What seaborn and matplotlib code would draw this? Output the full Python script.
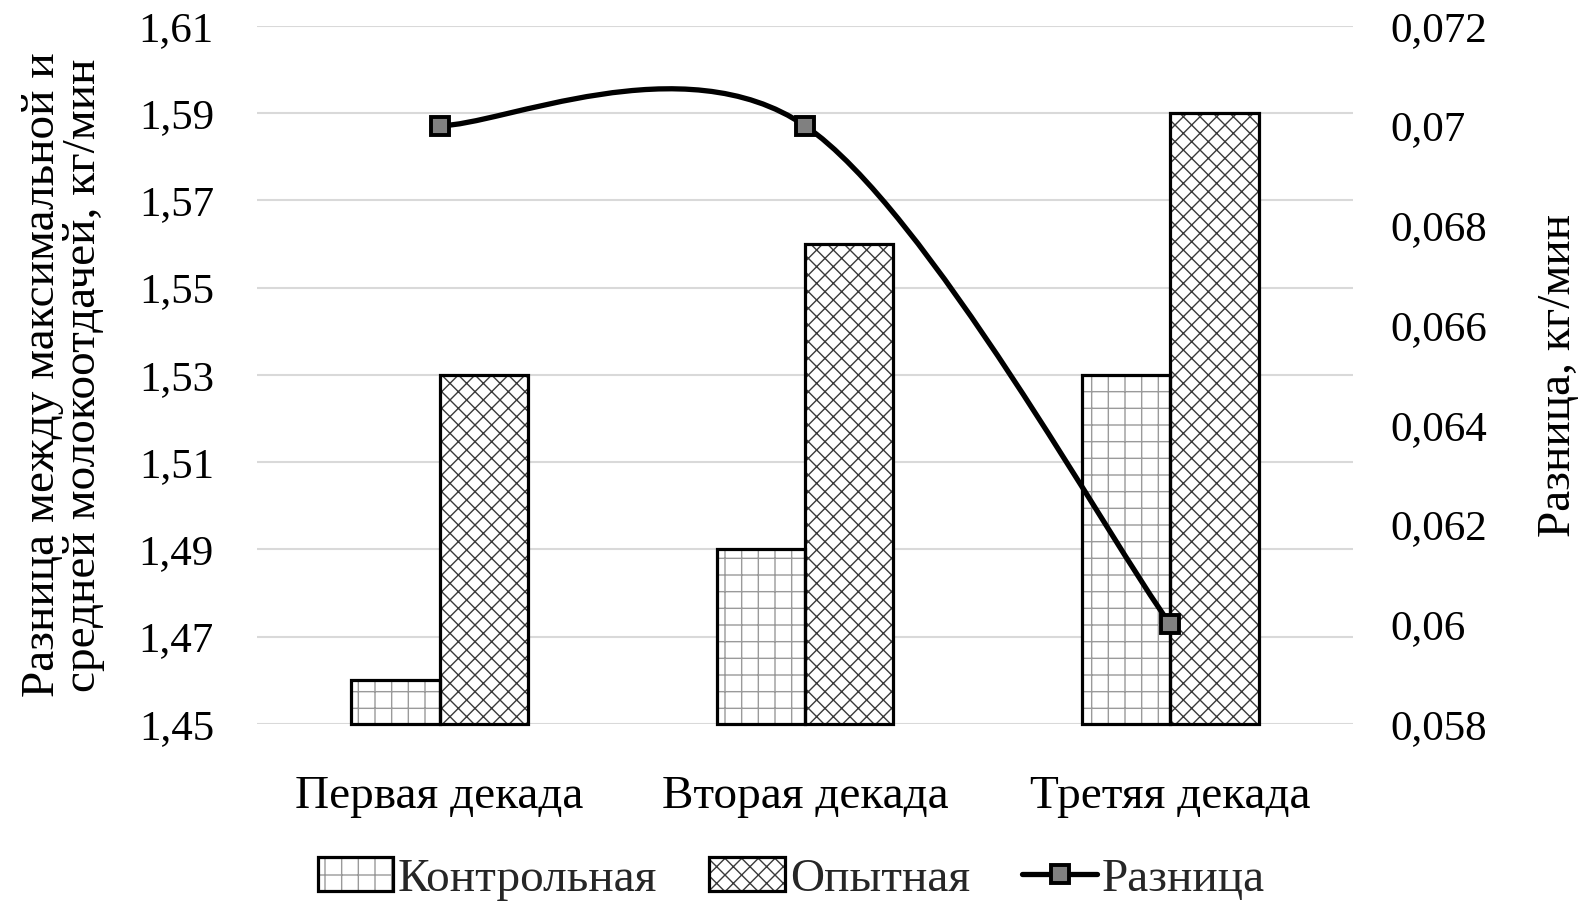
import numpy as np
import pandas as pd
import matplotlib.pyplot as plt
import seaborn as sns
from matplotlib.patches import Rectangle, Patch, PathPatch
from matplotlib.lines import Line2D
from matplotlib.path import Path
from matplotlib.ticker import FixedLocator, FuncFormatter

# Данные
dekady = ['Первая декада', 'Вторая декада', 'Третяя декада']
kontrol = [1.46, 1.49, 1.53]
opyt = [1.53, 1.56, 1.59]
raznica = [0.07, 0.07, 0.06]

df = pd.DataFrame({
    'Декада': dekady * 2,
    'Группа': ['Контрольная'] * 3 + ['Опытная'] * 3,
    'Значение': kontrol + opyt,
})

sns.set_theme(style="white")
plt.rcParams['font.family'] = ['Liberation Serif', 'DejaVu Serif']

fig = plt.figure(figsize=(15.83, 9.07), dpi=100)
ax = fig.add_axes([257 / 1583, 1 - 724 / 907, 1096 / 1583, 698 / 907])

# цвета штриховки: светлее для точечной сетки, темнее для косой
hatch_col = {'Контрольная': '#9a9a9a', 'Опытная': '#3a3a3a'}
hatches = {'Контрольная': '+', 'Опытная': 'xx'}

sns.barplot(data=df, x='Декада', y='Значение', hue='Группа', ax=ax,
            width=0.483, palette=['white', 'white'], linewidth=0,
            legend=False, saturation=1)

ax.set_ylim(1.45, 1.61)
ymin = ax.get_ylim()[0]

for cont, grp in zip(ax.containers, ['Контрольная', 'Опытная']):
    for bar in cont:
        bar.set_hatch(hatches[grp])
        bar.set_edgecolor(hatch_col[grp])
        bar.set_linewidth(0)
        # контур столбца
        ax.add_patch(Rectangle((bar.get_x(), ymin), bar.get_width(),
                               bar.get_y() + bar.get_height() - ymin,
                               fill=False, edgecolor='black', lw=2.3,
                               clip_on=False, zorder=3))

ax.set_yticks(np.arange(1.45, 1.6101, 0.02))
ax.yaxis.set_major_formatter(FuncFormatter(lambda v, p: f"{v:.2f}".replace('.', ',')))
ax.grid(axis='y', color='#d9d9d9', lw=1.5)
ax.grid(axis='x', visible=False)
ax.set_axisbelow(True)
for s in ax.spines.values():
    s.set_visible(False)
ax.tick_params(axis='y', labelsize=31, pad=31, length=0, colors='black')
ax.tick_params(axis='x', labelsize=34, pad=37, length=0, colors='black')
ax.set_xlabel('')
ax.set_ylabel('Разница между максимальной и\nсредней молокоотдачей, кг/мин',
              fontsize=34, linespacing=0.95, color='black', labelpad=24)

# правая ось
ax2 = ax.twinx()
ax2.set_ylim(0.058, 0.072)
ax2.yaxis.set_major_locator(FixedLocator(np.arange(0.058, 0.07201, 0.002)))
ax2.yaxis.set_major_formatter(
    FuncFormatter(lambda v, p: f"{v:.3f}".rstrip('0').replace('.', ',')))
for s in ax2.spines.values():
    s.set_visible(False)
ax2.tick_params(axis='y', labelsize=31, pad=27, length=0, colors='black')
ax2.set_ylabel('Разница, кг/мин', fontsize=34, color='black', labelpad=36)
ax2.grid(False)

# сглаженная линия (как в Excel: кривые Безье по точкам)
xs = np.arange(len(raznica), dtype=float)
pts = np.column_stack([xs, raznica])
ext = np.vstack([pts[0], pts, pts[-1]])
verts = [pts[0]]
codes = [Path.MOVETO]
for i in range(len(pts) - 1):
    c1 = ext[i + 1] + (ext[i + 2] - ext[i]) / 6
    c2 = ext[i + 2] - (ext[i + 3] - ext[i + 1]) / 6
    verts += [c1, c2, pts[i + 1]]
    codes += [Path.CURVE4] * 3
ax2.add_patch(PathPatch(Path(verts, codes), fill=False, edgecolor='black',
                        lw=3.8, zorder=4, capstyle='round'))
ax2.plot(xs, raznica, linestyle='none', marker='s', markersize=13,
         markerfacecolor='#808080', markeredgecolor='black',
         markeredgewidth=2.8, zorder=5)
ax2.set_xlim(-0.5, 2.5)
ax.set_xlim(-0.5, 2.5)

# легенда
h1 = (Patch(facecolor='white', edgecolor=hatch_col['Контрольная'], hatch='+', lw=0),
      Patch(fill=False, edgecolor='black', lw=2.3))
h2 = (Patch(facecolor='white', edgecolor=hatch_col['Опытная'], hatch='xx', lw=0),
      Patch(fill=False, edgecolor='black', lw=2.3))
h3 = Line2D([], [], color='black', lw=3.8, marker='s', markersize=13,
            markerfacecolor='#808080', markeredgecolor='black', markeredgewidth=2.8)
fig.legend([h1, h2, h3], ['Контрольная', 'Опытная', 'Разница'],
           loc='center', bbox_to_anchor=(0.5, 1 - 879 / 907), ncol=3,
           frameon=False, fontsize=34, handlelength=1.6, handletextpad=0.1,
           columnspacing=1.1, borderpad=0.1)

fig.savefig('out.png', dpi=100)
